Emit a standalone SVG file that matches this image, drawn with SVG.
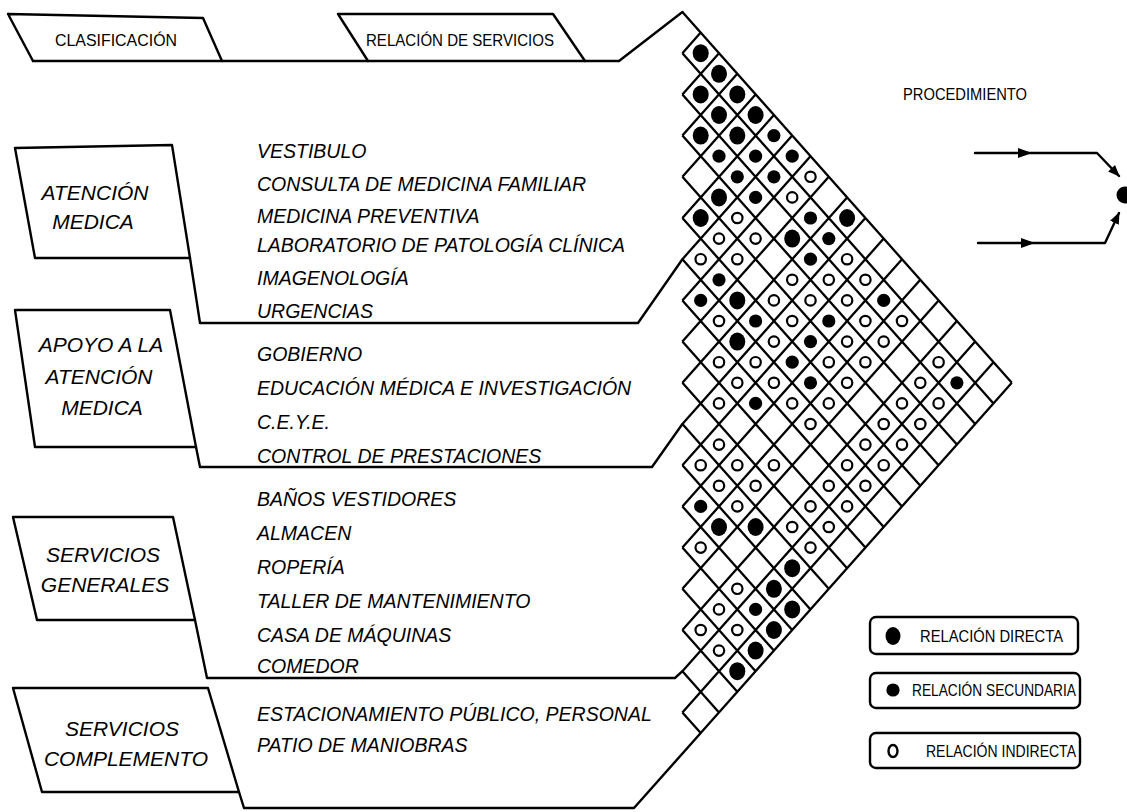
<svg xmlns="http://www.w3.org/2000/svg" width="1127" height="812" viewBox="0 0 1127 812">
<style>
  .ln{fill:none;stroke:#000;stroke-width:2.4;stroke-linejoin:round;stroke-linecap:round}
  .grid{fill:none;stroke:#000;stroke-width:2.3;vector-effect:non-scaling-stroke;stroke-linejoin:miter}
  .cat{font-family:"Liberation Sans",Arial,sans-serif;font-style:italic;font-size:21px;text-anchor:middle;fill:#000}
  .item{font-family:"Liberation Sans",Arial,sans-serif;font-style:italic;font-size:19.5px;fill:#000}
  .hd{font-family:"Liberation Sans",Arial,sans-serif;font-size:17px;fill:#000}
  .lg{font-family:"Liberation Sans",Arial,sans-serif;font-size:17px;fill:#000}
</style>
<defs>
  <ellipse id="L" rx="8" ry="9"/>
  <circle id="M" r="6.6"/>
  <circle id="O" r="5.2" fill="none" stroke="#000" stroke-width="2.2"/>
  <marker id="ah" viewBox="0 0 10 10" refX="9" refY="5" markerWidth="5" markerHeight="5" orient="auto">
    <path d="M0,1 L10,5 L0,9 z" fill="#000"/>
  </marker>
  <polygon id="midArrow" points="-7,-5 7,0 -7,5" fill="#000"/>
</defs>
<rect width="1127" height="812" fill="#fff"/>

<!-- header tabs -->
<g id="clasificacion">
  <path class="ln" d="M8,14 L203,18 L222,61 M8,14 L33,61"/>
  <text class="hd" x="116" y="46" text-anchor="middle" textLength="122" lengthAdjust="spacingAndGlyphs">CLASIFICACIÓN</text>
</g>
<g id="relacion-servicios">
  <path class="ln" d="M338,14 L553,14 L585,61 M338,14 L368,61"/>
  <text class="hd" x="460" y="46" text-anchor="middle" textLength="188" lengthAdjust="spacingAndGlyphs">RELACIÓN DE SERVICIOS</text>
</g>

<!-- category boxes -->
<g id="atencion-medica">
  <path class="ln" d="M15,148 L172,145 L190,258 H35 Z"/>
  <text class="cat" x="95" y="200">ATENCIÓN</text>
  <text class="cat" x="93" y="229">MEDICA</text>
</g>
<g id="apoyo-atencion-medica">
  <path class="ln" d="M15,310 L170,310 L196,447 H35 Z"/>
  <text class="cat" x="101" y="352">APOYO A LA</text>
  <text class="cat" x="99" y="384">ATENCIÓN</text>
  <text class="cat" x="102" y="415">MEDICA</text>
</g>
<g id="servicios-generales">
  <path class="ln" d="M13,517 L173,517 L195,620 H37 Z"/>
  <text class="cat" x="103" y="562">SERVICIOS</text>
  <text class="cat" x="105" y="592">GENERALES</text>
</g>
<g id="servicios-complemento">
  <path class="ln" d="M13,688 L208,688 L239,792 H42 Z"/>
  <text class="cat" x="122" y="736">SERVICIOS</text>
  <text class="cat" x="126" y="766">COMPLEMENTO</text>
</g>

<!-- service lists -->
<g id="lista-atencion">
  <text class="item" x="257" y="157.5">VESTIBULO</text>
  <text class="item" x="257" y="190.5">CONSULTA DE MEDICINA FAMILIAR</text>
  <text class="item" x="257" y="222.5">MEDICINA PREVENTIVA</text>
  <text class="item" x="257" y="251.5">LABORATORIO DE PATOLOGÍA CLÍNICA</text>
  <text class="item" x="257" y="284.5">IMAGENOLOGÍA</text>
  <text class="item" x="257" y="318">URGENCIAS</text>
</g>
<g id="lista-apoyo">
  <text class="item" x="257" y="361">GOBIERNO</text>
  <text class="item" x="257" y="395">EDUCACIÓN MÉDICA E INVESTIGACIÓN</text>
  <text class="item" x="257" y="429">C.E.Y.E.</text>
  <text class="item" x="257" y="463">CONTROL DE PRESTACIONES</text>
</g>
<g id="lista-generales">
  <text class="item" x="257" y="506">BAÑOS VESTIDORES</text>
  <text class="item" x="257" y="540">ALMACEN</text>
  <text class="item" x="257" y="574">ROPERÍA</text>
  <text class="item" x="257" y="608">TALLER DE MANTENIMIENTO</text>
  <text class="item" x="257" y="642">CASA DE MÁQUINAS</text>
  <text class="item" x="257" y="673">COMEDOR</text>
</g>
<g id="lista-complemento">
  <text class="item" x="257" y="721">ESTACIONAMIENTO PÚBLICO, PERSONAL</text>
  <text class="item" x="257" y="752">PATIO DE MANIOBRAS</text>
</g>

<!-- connectors: brackets leading into the matrix, procedure arrows -->
<g id="connectors">
  <path class="ln" d="M33,61 H619 L682.4,12"/>
  <path class="ln" d="M190,258 L200,323 H638 L682.4,259.2"/>
  <path class="ln" d="M196,447 L200,467 H652 L682.4,424"/>
  <path class="ln" d="M195,620 L207,678 H675 L682.4,671.2"/>
  <path class="ln" d="M239,792 L244,808 H634 L700.7,733"/>
  <path class="ln" d="M975,153 H1097 L1119,176" marker-end="url(#ah)"/>
  <path class="ln" d="M978,243 H1105 L1119,213" marker-end="url(#ah)"/>
  <use href="#midArrow" x="1025" y="153"/>
  <use href="#midArrow" x="1028" y="243"/>
</g>

<!-- relationship matrix: lattice of diamond cells -->
<g id="matriz">
  <g transform="matrix(18.3 20.6 -18.3 20.6 700.7 32.6)">
    <path class="grid" d="M-1 0H17M0 1H17M1 2H17M2 3H17M3 4H17M4 5H17M5 6H17M6 7H17M7 8H17M8 9H17M9 10H17M10 11H17M11 12H17M12 13H17M13 14H17M14 15H17M15 16H17M16 17H17M0 0V1M1 0V2M2 0V3M3 0V4M4 0V5M5 0V6M6 0V7M7 0V8M8 0V9M9 0V10M10 0V11M11 0V12M12 0V13M13 0V14M14 0V15M15 0V16M16 0V17M17 0V17"/>
  </g>
  <g id="marcas">
    <use href="#L" x="700.7" y="53.2"/>
    <use href="#L" x="719.0" y="73.8"/>
    <use href="#L" x="700.7" y="94.4"/><use href="#L" x="737.3" y="94.4"/>
    <use href="#L" x="719.0" y="115.0"/><use href="#L" x="755.6" y="115.0"/>
    <use href="#L" x="700.7" y="135.6"/><use href="#L" x="737.3" y="135.6"/><use href="#M" x="773.9" y="135.6"/>
    <use href="#M" x="719.0" y="156.2"/><use href="#M" x="755.6" y="156.2"/><use href="#M" x="792.2" y="156.2"/>
    <use href="#M" x="737.3" y="176.8"/><use href="#M" x="773.9" y="176.8"/><use href="#O" x="810.5" y="176.8"/>
    <use href="#L" x="719.0" y="197.4"/><use href="#M" x="755.6" y="197.4"/><use href="#O" x="792.2" y="197.4"/>
    <use href="#L" x="700.7" y="218.0"/><use href="#O" x="737.3" y="218.0"/><use href="#M" x="810.5" y="218.0"/><use href="#L" x="847.1" y="218.0"/>
    <use href="#O" x="719.0" y="238.6"/><use href="#O" x="755.6" y="238.6"/><use href="#L" x="792.2" y="238.6"/><use href="#M" x="828.8" y="238.6"/>
    <use href="#O" x="700.7" y="259.2"/><use href="#O" x="737.3" y="259.2"/><use href="#M" x="810.5" y="259.2"/><use href="#O" x="847.1" y="259.2"/>
    <use href="#M" x="719.0" y="279.8"/><use href="#O" x="792.2" y="279.8"/><use href="#O" x="828.8" y="279.8"/><use href="#O" x="865.4" y="279.8"/>
    <use href="#M" x="700.7" y="300.4"/><use href="#L" x="737.3" y="300.4"/><use href="#O" x="773.9" y="300.4"/><use href="#O" x="810.5" y="300.4"/><use href="#O" x="847.1" y="300.4"/><use href="#M" x="883.7" y="300.4"/>
    <use href="#O" x="719.0" y="321.0"/><use href="#M" x="755.6" y="321.0"/><use href="#O" x="792.2" y="321.0"/><use href="#M" x="828.8" y="321.0"/><use href="#O" x="865.4" y="321.0"/><use href="#O" x="902.0" y="321.0"/>
    <use href="#L" x="737.3" y="341.6"/><use href="#O" x="773.9" y="341.6"/><use href="#M" x="810.5" y="341.6"/><use href="#O" x="847.1" y="341.6"/><use href="#O" x="883.7" y="341.6"/>
    <use href="#O" x="719.0" y="362.2"/><use href="#O" x="755.6" y="362.2"/><use href="#M" x="792.2" y="362.2"/><use href="#O" x="828.8" y="362.2"/><use href="#O" x="865.4" y="362.2"/><use href="#O" x="938.6" y="362.2"/>
    <use href="#O" x="737.3" y="382.8"/><use href="#O" x="773.9" y="382.8"/><use href="#M" x="810.5" y="382.8"/><use href="#O" x="847.1" y="382.8"/><use href="#O" x="920.3" y="382.8"/><use href="#M" x="956.9" y="382.8"/>
    <use href="#O" x="719.0" y="403.4"/><use href="#M" x="755.6" y="403.4"/><use href="#O" x="792.2" y="403.4"/><use href="#O" x="828.8" y="403.4"/><use href="#O" x="902.0" y="403.4"/><use href="#O" x="938.6" y="403.4"/>
    <use href="#O" x="810.5" y="424.0"/><use href="#O" x="883.7" y="424.0"/><use href="#O" x="920.3" y="424.0"/>
    <use href="#O" x="719.0" y="444.6"/><use href="#O" x="865.4" y="444.6"/><use href="#O" x="902.0" y="444.6"/>
    <use href="#O" x="700.7" y="465.2"/><use href="#O" x="737.3" y="465.2"/><use href="#O" x="773.9" y="465.2"/><use href="#O" x="847.1" y="465.2"/><use href="#O" x="883.7" y="465.2"/>
    <use href="#O" x="719.0" y="485.8"/><use href="#O" x="755.6" y="485.8"/><use href="#O" x="828.8" y="485.8"/><use href="#O" x="865.4" y="485.8"/>
    <use href="#M" x="700.7" y="506.4"/><use href="#O" x="737.3" y="506.4"/><use href="#O" x="810.5" y="506.4"/><use href="#O" x="847.1" y="506.4"/>
    <use href="#L" x="719.0" y="527.0"/><use href="#L" x="755.6" y="527.0"/><use href="#O" x="792.2" y="527.0"/><use href="#O" x="828.8" y="527.0"/>
    <use href="#O" x="700.7" y="547.6"/><use href="#O" x="810.5" y="547.6"/>
    <use href="#L" x="792.2" y="568.2"/>
    <use href="#O" x="737.3" y="588.8"/><use href="#L" x="773.9" y="588.8"/>
    <use href="#O" x="719.0" y="609.4"/><use href="#M" x="755.6" y="609.4"/><use href="#L" x="792.2" y="609.4"/>
    <use href="#O" x="700.7" y="630.0"/><use href="#O" x="737.3" y="630.0"/><use href="#L" x="773.9" y="630.0"/>
    <use href="#O" x="719.0" y="650.6"/><use href="#L" x="755.6" y="650.6"/>
    <use href="#L" x="737.3" y="671.2"/>
  </g>
</g>

<!-- procedure sketch -->
<g id="procedimiento">
  <text class="hd" x="903" y="100" textLength="124" lengthAdjust="spacingAndGlyphs">PROCEDIMIENTO</text>
  <circle cx="1125" cy="195" r="8.5"/>
</g>

<!-- legend -->
<g id="leyenda">
  <g id="ley-directa">
    <rect class="ln" x="870" y="617" width="208" height="37" rx="6"/>
    <ellipse cx="893" cy="636" rx="7.5" ry="9"/>
    <text class="lg" x="920" y="642" textLength="143" lengthAdjust="spacingAndGlyphs">RELACIÓN DIRECTA</text>
  </g>
  <g id="ley-secundaria">
    <rect class="ln" x="870" y="673" width="210" height="35" rx="6"/>
    <circle cx="893" cy="690" r="6.6"/>
    <text class="lg" x="912" y="696" textLength="164" lengthAdjust="spacingAndGlyphs">RELACIÓN SECUNDARIA</text>
  </g>
  <g id="ley-indirecta">
    <rect class="ln" x="870" y="733" width="210" height="35" rx="6"/>
    <ellipse cx="893" cy="751" rx="4.5" ry="6" fill="none" stroke="#000" stroke-width="2.4"/>
    <text class="lg" x="926" y="757" textLength="150" lengthAdjust="spacingAndGlyphs">RELACIÓN INDIRECTA</text>
  </g>
</g>
</svg>
